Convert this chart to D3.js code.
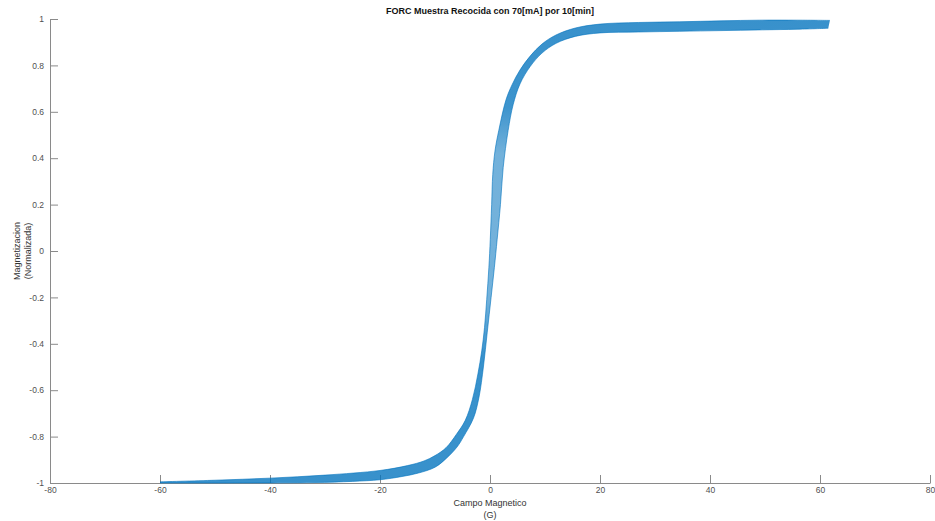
<!DOCTYPE html>
<html>
<head>
<meta charset="utf-8">
<script src="https://cdn.jsdelivr.net/npm/d3@7"></script>
<style>
  body { margin: 0; background: #fff; }
  svg { display: block; font-family: "Liberation Sans", Arial, sans-serif; }
  .axis path, .axis line { stroke: #8a8a8a; }
  .axis text { fill: #505050; font-size: 8.5px; }
</style>
</head>
<body>
<div id="chart"></div>
<script>
// ticks
const xTicks = [-80, -60, -40, -20, 0, 20, 40, 60, 80];
const xTickLabels = ["-80", "-60", "-40", "-20", "0", "20", "40", "60", "80"];
const yTicks = [-1, -0.8, -0.6, -0.4, -0.2, 0, 0.2, 0.4, 0.6, 0.8, 1];
const yTickLabels = ["-1", "-0.8", "-0.6", "-0.4", "-0.2", "0", "0.2", "0.4", "0.6", "0.8", "1"];

// upper / left edge of the FORC bundle (field in G, normalized magnetization)
const upperField = [-60, -50, -40, -30, -20, -15, -12, -10, -8, -6.1, -4.5, -3.2, -2.2, -1.5, -1.0, -0.6, -0.2,
  0.05, 0.3, 0.5, 0.9, 1.6, 2.9, 4.0, 5.45, 7.3, 9.45, 12, 15.5, 20, 27, 34.5, 42, 49, 56, 61.8];
const upperMag = [-0.995, -0.988, -0.979, -0.966, -0.946, -0.925, -0.905, -0.882, -0.848, -0.79, -0.73, -0.64, -0.53,
  -0.43, -0.33, -0.21, -0.07, 0.05, 0.2, 0.33, 0.43, 0.52, 0.651, 0.716, 0.78, 0.84, 0.892, 0.931, 0.961, 0.978,
  0.985, 0.988, 0.992, 0.995, 0.995, 0.994];

// lower / right edge of the bundle
const lowerField = [-60, -45, -32, -25, -20, -16, -13, -10, -8, -6, -4.8, -3.0, -2.0, -1.2, -0.5, 0.2, 0.8, 1.3,
  1.9, 2.4, 3.3, 4.2, 5.45, 7.3, 9.45, 12, 15.5, 20, 27, 34.5, 42, 49, 56, 61.5];
const lowerMag = [-1.0, -1.0, -0.998, -0.993, -0.986, -0.972, -0.957, -0.932, -0.895, -0.845, -0.8, -0.72, -0.63,
  -0.5, -0.35, -0.2, -0.07, 0.05, 0.2, 0.36, 0.52, 0.63, 0.72, 0.795, 0.853, 0.895, 0.925, 0.94, 0.944, 0.947,
  0.95, 0.953, 0.956, 0.96];

const width = 935, height = 521;
const margin = { top: 19, right: 5, bottom: 38, left: 50 };

const svg = d3.select("#chart").append("svg")
  .attr("width", width)
  .attr("height", height);

const x = d3.scaleLinear().domain([-80, 80]).range([margin.left, width - margin.right]);
const y = d3.scaleLinear().domain([-1, 1]).range([height - margin.bottom, margin.top]);

// lighter shading where the curves spread apart in the steep part
const grad = svg.append("defs").append("linearGradient")
  .attr("id", "bandFill")
  .attr("gradientUnits", "userSpaceOnUse")
  .attr("x1", 0).attr("x2", 0)
  .attr("y1", y(1)).attr("y2", y(-1));
[[1, 0.78], [0.62, 0.76], [0.42, 0.55], [-0.2, 0.55], [-0.45, 0.78], [-1, 0.78]].forEach(s => {
  grad.append("stop")
    .attr("offset", (y(s[0]) - y(1)) / (y(-1) - y(1)))
    .attr("stop-color", "#0072BD")
    .attr("stop-opacity", s[1]);
});

// axes
svg.append("g")
  .attr("class", "axis")
  .attr("transform", `translate(0,${y(-1)})`)
  .call(d3.axisBottom(x)
    .tickValues(xTicks)
    .tickFormat((d, i) => xTickLabels[i])
    .tickSizeInner(-8)
    .tickSizeOuter(0)
    .tickPadding(4));

svg.append("g")
  .attr("class", "axis")
  .attr("transform", `translate(${x(-80)},0)`)
  .call(d3.axisLeft(y)
    .tickValues(yTicks)
    .tickFormat((d, i) => yTickLabels[i])
    .tickSizeInner(-8)
    .tickSizeOuter(0)
    .tickPadding(6));

// FORC bundle
const upperPts = d3.zip(upperField, upperMag);
const lowerPts = d3.zip(lowerField, lowerMag).reverse();

const line = d3.line()
  .x(d => x(d[0]))
  .y(d => y(d[1]))
  .curve(d3.curveCatmullRom.alpha(0.5));

svg.append("path")
  .attr("d", line(upperPts) + "L" + line(lowerPts).slice(1) + "Z")
  .attr("fill", "url(#bandFill)")
  .attr("stroke", "none");

[upperPts, lowerPts].forEach(pts => {
  svg.append("path")
    .attr("d", line(pts))
    .attr("fill", "none")
    .attr("stroke", "#0072BD")
    .attr("stroke-opacity", 0.75)
    .attr("stroke-width", 0.8);
});

// title
svg.append("text")
  .attr("x", (x(-80) + x(80)) / 2)
  .attr("y", 14)
  .attr("text-anchor", "middle")
  .style("font-size", "9px")
  .style("font-weight", "bold")
  .style("fill", "#111")
  .text("FORC Muestra Recocida con 70[mA] por 10[min]");

// x label
const xl = svg.append("text")
  .attr("text-anchor", "middle")
  .style("font-size", "9px")
  .style("fill", "#333");
xl.append("tspan").attr("x", x(0)).attr("y", 506).text("Campo Magnetico");
xl.append("tspan").attr("x", x(0)).attr("y", 518).text("(G)");

// y label
const yl = svg.append("text")
  .attr("text-anchor", "middle")
  .attr("transform", `translate(0,${y(0)}) rotate(-90)`)
  .style("font-size", "9px")
  .style("fill", "#333");
yl.append("tspan").attr("x", 0).attr("y", 20).text("Magnetizacion");
yl.append("tspan").attr("x", 0).attr("y", 31).text("(Normalizada)");
</script>
</body>
</html>
